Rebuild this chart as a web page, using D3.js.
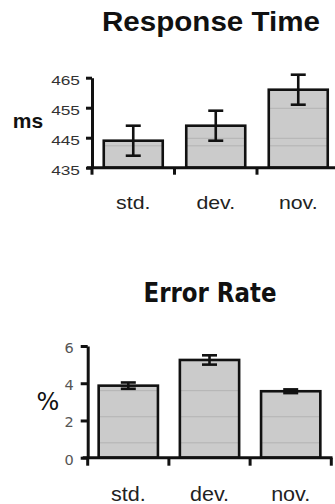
<!DOCTYPE html>
<html><head><meta charset="utf-8">
<script src="https://cdn.jsdelivr.net/npm/d3@7"></script>
<style>
html,body{margin:0;padding:0;background:#fff;}
svg{display:block;}
</style></head>
<body>
<svg id="c" width="335" height="504"></svg>
<script>
const categories = ["std.", "dev.", "nov."];
const rtValues = [444, 449, 461];
const rtErrors = [5, 5, 5];
const rtTicks = [435, 445, 455, 465];
const rtGrid = [442.3, 444.8, 454.8];
const erValues = [3.87, 5.25, 3.57];
const erErrors = [0.17, 0.25, 0.1];
const erTicks = [0, 2, 4, 6];
const erGrid = [0.8, 2.2, 3.6];

const svg = d3.select("#c");

function stretch(sel, factor) {
  sel.each(function () {
    const w = this.getComputedTextLength();
    d3.select(this).attr("textLength", w * factor).attr("lengthAdjust", "spacingAndGlyphs");
  });
}

function panel(cfg) {
  const g = svg.append("g");
  const x = d3.scaleBand().domain(categories).range(cfg.xRange)
    .paddingInner(cfg.pad).paddingOuter(cfg.pad / 2);
  const y = d3.scaleLinear().domain(cfg.yDomain).range(cfg.yRange);
  const data = categories.map((c, i) => ({c, v: cfg.values[i], e: cfg.errors[i]}));

  // title
  g.append("text").attr("x", cfg.titleX).attr("y", cfg.titleY)
    .attr("text-anchor", "middle").attr("font-family", cfg.titleFont)
    .attr("font-weight", "bold").attr("font-size", cfg.titleSize).attr("fill", "#111")
    .attr("textLength", cfg.titleLen).attr("lengthAdjust", "spacingAndGlyphs")
    .text(cfg.title);

  // bars
  const clipId = "clip" + cfg.id;
  const cp = g.append("clipPath").attr("id", clipId);
  cp.selectAll("rect").data(data).join("rect")
    .attr("x", d => x(d.c)).attr("width", x.bandwidth())
    .attr("y", d => y(d.v)).attr("height", d => y(cfg.yDomain[0]) - y(d.v));
  g.selectAll("rect.bar").data(data).join("rect").attr("class", "bar")
    .attr("x", d => x(d.c)).attr("width", x.bandwidth())
    .attr("y", d => y(d.v)).attr("height", d => y(cfg.yDomain[0]) - y(d.v))
    .attr("fill", "#cbcbcb");
  // faint grid inside bars
  g.append("g").attr("clip-path", `url(#${clipId})`)
    .selectAll("line").data(cfg.grid).join("line")
    .attr("x1", cfg.xRange[0]).attr("x2", cfg.xRange[1])
    .attr("y1", d => y(d)).attr("y2", d => y(d))
    .attr("stroke", "#b3b3b3").attr("stroke-width", 1);
  g.selectAll("rect.outline").data(data).join("rect").attr("class", "outline")
    .attr("x", d => x(d.c)).attr("width", x.bandwidth())
    .attr("y", d => y(d.v)).attr("height", d => y(cfg.yDomain[0]) - y(d.v))
    .attr("fill", "none").attr("stroke", "#111").attr("stroke-width", 2.6);

  // error bars
  const eb = g.append("g").attr("stroke", "#111").attr("stroke-width", 2.6);
  const cx = d => x(d.c) + x.bandwidth() / 2;
  eb.selectAll("line.stem").data(data).join("line").attr("class", "stem")
    .attr("x1", cx).attr("x2", cx)
    .attr("y1", d => y(d.v + d.e)).attr("y2", d => y(d.v - d.e));
  eb.selectAll("line.capT").data(data).join("line").attr("class", "capT")
    .attr("x1", d => cx(d) - 7.5).attr("x2", d => cx(d) + 7.5)
    .attr("y1", d => y(d.v + d.e)).attr("y2", d => y(d.v + d.e));
  eb.selectAll("line.capB").data(data).join("line").attr("class", "capB")
    .attr("x1", d => cx(d) - 7.5).attr("x2", d => cx(d) + 7.5)
    .attr("y1", d => y(d.v - d.e)).attr("y2", d => y(d.v - d.e));

  // y axis
  const ya = g.append("g").attr("transform", `translate(${cfg.xRange[0]},0)`)
    .call(d3.axisLeft(y).tickValues(cfg.ticks).tickFormat(d3.format("d"))
      .tickSize(cfg.tickSize).tickPadding(cfg.tickPad).tickSizeOuter(0));
  ya.select(".domain").attr("stroke", "#111").attr("stroke-width", 3);
  ya.selectAll(".tick line").attr("stroke", "#111").attr("stroke-width", 3);
  ya.selectAll(".tick text").attr("font-family", cfg.tickFont).attr("font-size", cfg.tickFontSize)
    .attr("fill", cfg.tickColor).attr("dy", cfg.tickDy);
  stretch(ya.selectAll(".tick text"), cfg.tickStretch);

  // x axis line + boundary ticks
  const base = y(cfg.yDomain[0]);
  g.append("line").attr("x1", cfg.xRange[0] - 5).attr("x2", cfg.xLineEnd)
    .attr("y1", base).attr("y2", base).attr("stroke", "#111").attr("stroke-width", 3);
  const half = (x.step() - x.bandwidth()) / 2;
  const bounds = categories.map(c => x(c) - half).concat([x(categories[categories.length - 1]) + x.bandwidth() + half]);
  g.selectAll("line.xt").data(bounds).join("line").attr("class", "xt")
    .attr("x1", d => d).attr("x2", d => d).attr("y1", base).attr("y2", base + cfg.xTickLen)
    .attr("stroke", "#111").attr("stroke-width", 3);

  // x labels
  const xa = g.append("g").attr("transform", `translate(0,${base})`)
    .call(d3.axisBottom(x).tickSize(0).tickPadding(0));
  xa.select(".domain").remove();
  xa.selectAll(".tick text").attr("font-family", "'Liberation Sans', Arial, sans-serif")
    .attr("font-size", cfg.labelSize).attr("fill", "#222")
    .attr("dy", 0).attr("y", cfg.labelBaseline - base);
  stretch(xa.selectAll(".tick text"), cfg.labelStretch);

  // unit label
  g.append("text").attr("x", cfg.unitX).attr("y", cfg.unitY).attr("text-anchor", "middle")
    .attr("font-family", cfg.unitFont).attr("font-weight", cfg.unitWeight)
    .attr("font-size", cfg.unitSize).attr("fill", "#111").text(cfg.unit);
}

panel({
  id: 1, title: "Response Time", titleX: 211, titleY: 31, titleSize: 27, titleLen: 218,
  titleFont: "'Liberation Sans', Arial, sans-serif",
  values: rtValues, errors: rtErrors, ticks: rtTicks, grid: rtGrid,
  xRange: [92, 339.5], pad: 0.285, yDomain: [435, 465], yRange: [167.7, 77.7],
  tickSize: 6, tickPad: 6, tickFont: "'Liberation Sans', Arial, sans-serif", tickFontSize: 13,
  tickColor: "#333", tickDy: "0.5em", tickStretch: 1.33,
  xLineEnd: 335, xTickLen: 7, labelSize: 18.5, labelBaseline: 209, labelStretch: 1.15,
  unit: "ms", unitX: 28, unitY: 128, unitFont: "'Liberation Sans', Arial, sans-serif",
  unitWeight: "bold", unitSize: 21
});

panel({
  id: 2, title: "Error Rate", titleX: 210, titleY: 301.5, titleSize: 27, titleLen: 133,
  titleFont: "'DejaVu Sans', sans-serif",
  values: erValues, errors: erErrors, ticks: erTicks, grid: erGrid,
  xRange: [87.7, 331.3], pad: 0.27, yDomain: [0, 6], yRange: [457.7, 346],
  tickSize: 7, tickPad: 7, tickFont: "'DejaVu Sans', sans-serif", tickFontSize: 14.5,
  tickColor: "#555", tickDy: "0.45em", tickStretch: 1.0,
  xLineEnd: 332.5, xTickLen: 8, labelSize: 20.5, labelBaseline: 501, labelStretch: 1.05,
  unit: "%", unitX: 48, unitY: 410, unitFont: "'DejaVu Sans', sans-serif",
  unitWeight: "normal", unitSize: 24
});
</script>
</body></html>
